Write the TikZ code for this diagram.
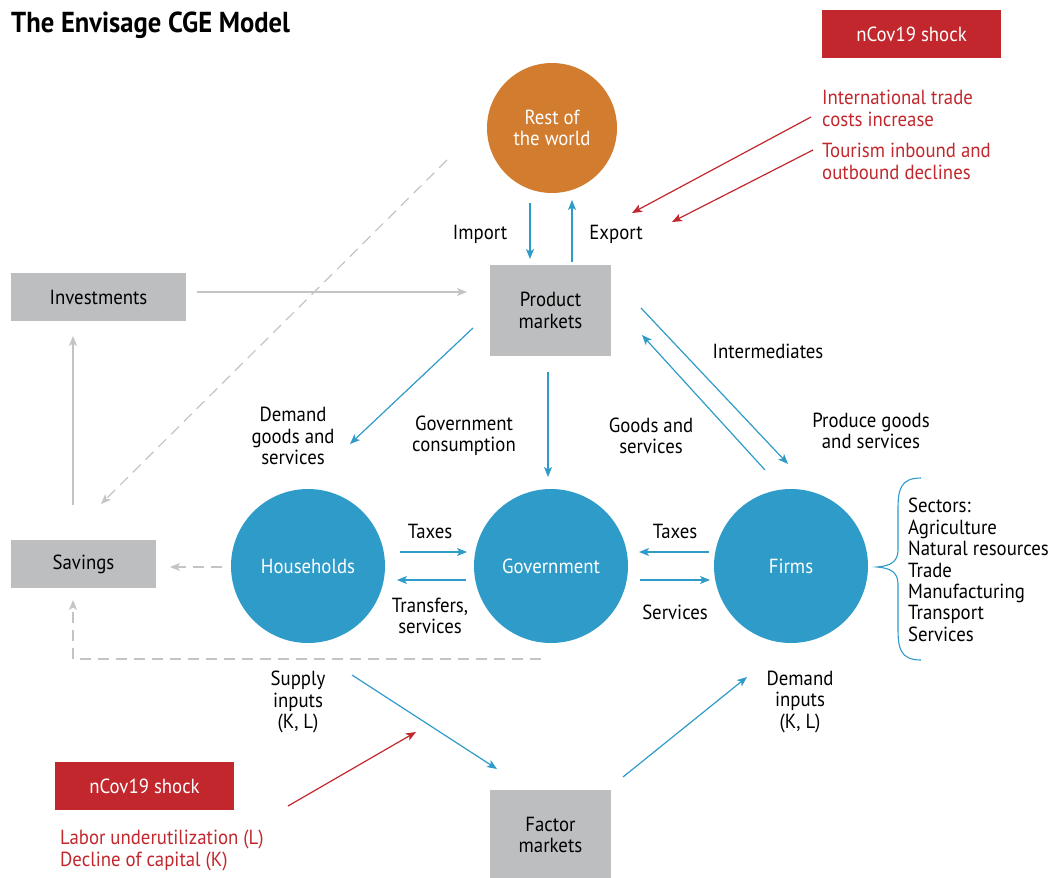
\documentclass[tikz,border=0pt]{standalone}
\usepackage{fontspec}
\setmainfont[FakeStretch=0.92]{PT Sans}
\usetikzlibrary{arrows.meta,decorations.pathreplacing}
\definecolor{cblue}{HTML}{2E9BC9}
\definecolor{corange}{HTML}{D17C2E}
\definecolor{cgray}{HTML}{BDBEC0}
\definecolor{cred}{HTML}{C1272D}
\definecolor{carrow}{HTML}{C4C4C4}
\newcommand{\lblfont}{\fontsize{20.5}{21.5}\selectfont}
\tikzset{
  lbl/.style={align=center, font=\lblfont, inner sep=0pt, text=black},
  llbl/.style={align=left, font=\lblfont, inner sep=0pt, anchor=north west},
  redtxt/.style={llbl, text=cred},
  gbox/.style={fill=cgray, inner sep=0pt, font=\lblfont, align=center},
  rbox/.style={fill=cred, inner sep=0pt, text=white, font=\lblfont},
  bcirc/.style={circle, fill=cblue, text=white, inner sep=0pt, minimum size=154bp, font=\lblfont},
  barrow/.style={draw=cblue, line width=1.2bp, -{Stealth[length=10bp,width=8bp,inset=2.5bp]}},
  rarrow/.style={draw=cred, line width=1.2bp, -{Stealth[length=10bp,width=8bp,inset=2.5bp]}},
  garrow/.style={draw=carrow, line width=1.2bp, -{Stealth[length=10bp,width=8bp,inset=2.5bp]}},
  darrow/.style={draw=carrow, line width=1.2bp, dash pattern=on 11bp off 7bp, -{Stealth[length=10bp,width=8bp,inset=2.5bp]}},
}
\begin{document}
\begin{tikzpicture}[x=1bp, y=-1bp]
\useasboundingbox (0,0) rectangle (1057,878);
% title
\node[anchor=west, inner sep=0pt, font=\fontsize{29}{30}\selectfont\bfseries] (title) at (11,25) {The Envisage CGE Model};
% red shock boxes
\node[rbox, minimum width=179bp, minimum height=48bp] (shock1) at (911.5,34) {nCov19 shock};
\node[rbox, minimum width=179bp, minimum height=48bp] (shock2) at (144.5,786) {nCov19 shock};
\node[redtxt] (trade) at (822,90) {International trade\\costs increase};
\node[redtxt] (tour) at (822,143) {Tourism inbound and\\outbound declines};
\node[redtxt] (labor) at (60,830) {Labor underutilization (L)\\Decline of capital (K)};
% circles
\node[circle, fill=corange, text=white, inner sep=0pt, minimum size=130bp, align=center, font=\lblfont] (row) at (552,128) {Rest of\\the world};
\node[bcirc] (hh) at (308,566) {Households};
\node[bcirc] (gov) at (551,566) {Government};
\node[bcirc] (firms) at (791,566) {Firms};
% gray boxes
\node[gbox, minimum width=121bp, minimum height=91bp] (pm) at (550.5,310.5) {Product\\markets};
\node[gbox, minimum width=175bp, minimum height=48bp] (inv) at (98.5,297) {Investments};
\node[gbox, minimum width=145bp, minimum height=48bp] (sav) at (83.5,564) {Savings};
\node[gbox, minimum width=121bp, minimum height=90bp] (fm) at (550.5,835) {Factor\\markets};
% labels
\node[lbl] (limport) at (480,234) {Import};
\node[lbl] (lexport) at (616,234) {Export};
\node[lbl] (ldemand) at (293,436) {Demand\\goods and\\services};
\node[lbl] (lgovc) at (464,436) {Government\\consumption};
\node[lbl] (lgoods) at (651,436) {Goods and\\services};
\node[lbl] (linter) at (768,351) {Intermediates};
\node[lbl] (lprod) at (871,431) {Produce goods\\and services};
\node[lbl] (ltax1) at (430,531) {Taxes};
\node[lbl] (ltrans) at (430,616) {Transfers,\\services};
\node[lbl] (ltax2) at (675,531) {Taxes};
\node[lbl] (lserv) at (675,612) {Services};
\node[lbl] (lsupply) at (298,702) {Supply\\inputs\\(K, L)};
\node[lbl] (ldeminp) at (800,702) {Demand\\inputs\\(K, L)};
\node[llbl] (sectors) at (908,498) {Sectors:\\Agriculture\\Natural resources\\Trade\\Manufacturing\\Transport\\Services};
% arrow end coordinates
\coordinate (imA) at (530,203); \coordinate (imB) at (530,259);
\coordinate (exA) at (572,262); \coordinate (exB) at (572,200);
\coordinate (tr1A) at (811,117); \coordinate (tr1B) at (632,213);
\coordinate (tr2A) at (813,150); \coordinate (tr2B) at (672,222);
\coordinate (invA) at (197,292); \coordinate (invB) at (467,292);
\coordinate (savupA) at (73,505); \coordinate (savupB) at (73,336);
\coordinate (rowdA) at (447,160); \coordinate (rowdB) at (101,504);
\coordinate (hhsA) at (222,567); \coordinate (hhsB) at (170,567);
\coordinate (govsA) at (541,659); \coordinate (govsC) at (73,659); \coordinate (govsB) at (73,600);
\coordinate (pmhA) at (473,328); \coordinate (pmhB) at (350,444);
\coordinate (pmgA) at (548,372); \coordinate (pmgB) at (548,477);
\coordinate (pmfA) at (641,308); \coordinate (pmfB) at (788,464);
\coordinate (fpmA) at (765,470); \coordinate (fpmB) at (642,335);
\coordinate (t1A) at (400,552); \coordinate (t1B) at (467,552);
\coordinate (trA) at (466,580); \coordinate (trB) at (397,580);
\coordinate (t2A) at (709,552); \coordinate (t2B) at (639,552);
\coordinate (svA) at (640,580); \coordinate (svB) at (710,580);
\coordinate (supA) at (352,675); \coordinate (supB) at (497,769);
\coordinate (dmA) at (623,777); \coordinate (dmB) at (747,677);
\coordinate (lbA) at (288,806); \coordinate (lbB) at (416,732);
% arrows
\draw[barrow] (imA) -- (imB);
\draw[barrow] (exA) -- (exB);
\draw[rarrow] (tr1A) -- (tr1B);
\draw[rarrow] (tr2A) -- (tr2B);
\draw[garrow] (invA) -- (invB);
\draw[garrow] (savupA) -- (savupB);
\draw[darrow] (rowdA) -- (rowdB);
\draw[darrow] (hhsA) -- (hhsB);
\draw[darrow] (govsA) -- (govsC) -- (govsB);
\draw[barrow] (pmhA) -- (pmhB);
\draw[barrow] (pmgA) -- (pmgB);
\draw[barrow] (pmfA) -- (pmfB);
\draw[barrow] (fpmA) -- (fpmB);
\draw[barrow] (t1A) -- (t1B);
\draw[barrow] (trA) -- (trB);
\draw[barrow] (t2A) -- (t2B);
\draw[barrow] (svA) -- (svB);
\draw[barrow] (supA) -- (supB);
\draw[barrow] (dmA) -- (dmB);
\draw[rarrow] (lbA) -- (lbB);
% brace
\coordinate (brT) at (921,478); \coordinate (brB) at (921,660);
\draw[cblue, line width=1.1bp] (brT) .. controls (900,478) and (898,490) .. (898,510)
  -- (898,550) .. controls (898,562) and (890,566) .. (877,567)
  .. controls (890,568) and (898,572) .. (898,584)
  -- (898,628) .. controls (898,648) and (900,660) .. (brB);
\end{tikzpicture}
\end{document}
